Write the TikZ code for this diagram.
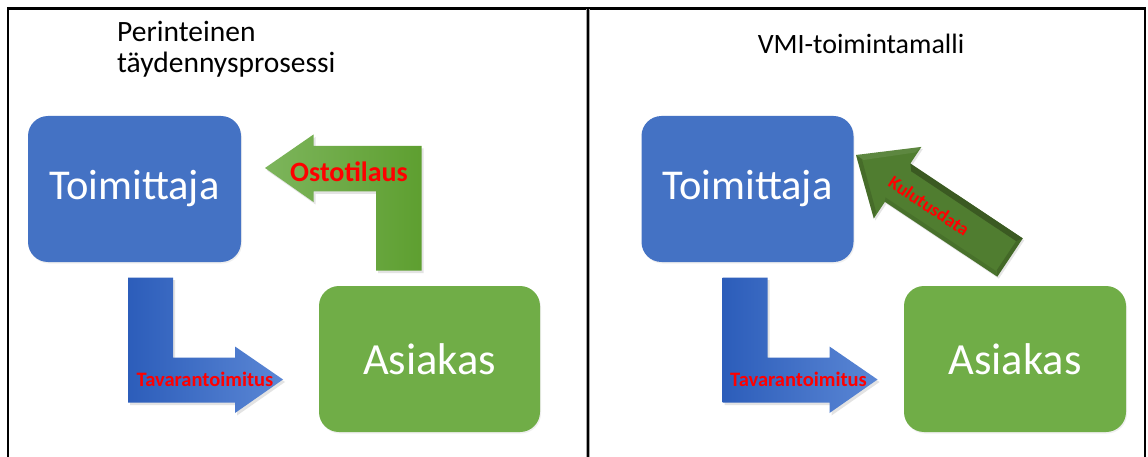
\documentclass[tikz,border=0pt]{standalone}
\usepackage{fontspec}
\setmainfont{Carlito}
\usetikzlibrary{shadows}
\definecolor{boxblue}{HTML}{4472C4}
\definecolor{boxgreen}{HTML}{70AD47}
\definecolor{arrblueA}{HTML}{2C5DBA}
\definecolor{arrblueB}{HTML}{5B87D5}
\definecolor{arrgreenA}{HTML}{7DB55C}
\definecolor{arrgreenB}{HTML}{5E9F30}
\definecolor{kgreen}{HTML}{507D30}
\definecolor{kdark}{HTML}{344F1E}
\definecolor{lblred}{HTML}{FF0000}
\tikzset{
  actor/.style={rounded corners=20pt, inner sep=0pt, text=white,
    drop shadow={shadow xshift=1pt, shadow yshift=-1.5pt, opacity=.12}},
  heading/.style={font=\fontsize{28}{32}\selectfont, inner sep=0pt},
  flowlabel/.style={text=lblred, font=\bfseries\fontsize{20.5}{24}\selectfont, inner sep=0pt},
  bentshadow/.style={drop shadow={shadow xshift=2pt, shadow yshift=-2.5pt, opacity=.22}},
  frameline/.style={line width=2.6pt, black}
}
\begin{document}
\begin{tikzpicture}[x=1pt, y=-1pt]
\useasboundingbox (0,0) rectangle (1148,457);
\fill[white] (0,0) rectangle (1148,457);

% panel frame
\draw[frameline] (8,8.5) -- (1146,8.5);
\draw[frameline] (8,7.2) -- (8,460);
\draw[frameline] (1145,7.2) -- (1145,460);
\draw[line width=4.2pt, black!35] (588,9.5) -- (588,460);
\draw[frameline] (588,7.2) -- (588,460);

% ---------- left panel: traditional replenishment ----------
\node[heading, font=\fontsize{29.5}{34}\selectfont, anchor=base west] (titleA1) at (117,41.7) {Perinteinen};
\node[heading, font=\fontsize{29.5}{34}\selectfont, anchor=base west] (titleA2) at (117,72.7) {täydennysprosessi};

\node[actor, fill=boxblue, minimum width=213pt, minimum height=146pt,
      font=\fontsize{42.5}{48}\selectfont] (supA) at (134.5,189) {Toimittaja};
\node[actor, fill=boxgreen, minimum width=221pt, minimum height=146pt,
      font=\fontsize{44.5}{50}\selectfont] (cusA) at (429.5,359) {Asiakas};

% purchase order arrow (customer -> supplier)
\path[bentshadow, left color=arrgreenA, right color=arrgreenB]
  (265,168) -- (313.5,134.5) -- (313.5,146) -- (421.5,146) -- (421.5,270.5)
  -- (376,270.5) -- (376,191.5) -- (313.5,191.5) -- (313.5,202) -- cycle;
\node[flowlabel, font=\bfseries\fontsize{28}{32}\selectfont] (orderA) at (349,172) {Ostotilaus};

% delivery arrow (supplier -> customer)
\path[bentshadow, left color=arrblueA, right color=arrblueB]
  (128,277.5) -- (173,277.5) -- (173,357.5) -- (235,357.5) -- (235,346.5)
  -- (283,379.5) -- (235,413) -- (235,402.5) -- (128,402.5) -- cycle;
\node[flowlabel] (delivA) at (205,379) {Tavarantoimitus};

% ---------- right panel: VMI model ----------
\node[heading, anchor=base] (titleB) at (861,53.3) {VMI-toimintamalli};

\node[actor, fill=boxblue, minimum width=212pt, minimum height=146pt,
      font=\fontsize{42.5}{48}\selectfont] (supB) at (747.5,189) {Toimittaja};
\node[actor, fill=boxgreen, minimum width=222pt, minimum height=146pt,
      font=\fontsize{44.5}{50}\selectfont] (cusB) at (1015,359) {Asiakas};

% delivery arrow (supplier -> customer)
\begin{scope}[xshift=594.5pt]
\path[bentshadow, left color=arrblueA, right color=arrblueB]
  (128,277.5) -- (173,277.5) -- (173,357.5) -- (235,357.5) -- (235,346.5)
  -- (283,379.5) -- (235,413) -- (235,402.5) -- (128,402.5) -- cycle;
\end{scope}
\node[flowlabel] (delivB) at (798.5,379) {Tavarantoimitus};

% consumption data arrow (customer -> supplier), bevelled
\begin{scope}[shift={(1010,257.5)}, rotate=146.35]
  \fill[kgreen, drop shadow={shadow xshift=1.5pt, shadow yshift=-2pt, opacity=.2}]
    (0,-23) -- (135,-23) -- (135,-43) -- (185,0) -- (135,43) -- (135,23) -- (0,23) -- cycle;
  % dark bevel along the upper side and tail
  \fill[kdark, opacity=.75] (0,23) -- (135,23) -- (130,17) -- (4,17) -- cycle;
  \fill[kdark, opacity=.45] (0,-23) -- (0,23) -- (4,17) -- (4,-18) -- cycle;
  \fill[kdark, opacity=.35] (135,-43) -- (185,0) -- (178,0) -- (137,-36) -- cycle;
  \fill[kdark, opacity=.25] (0,-23) -- (135,-23) -- (137,-19) -- (4,-19) -- cycle;
  \fill[white, opacity=.08] (135,43) -- (185,0) -- (176,0) -- (137,35) -- cycle;
  \node[flowlabel, font=\bfseries\fontsize{18.5}{22}\selectfont, rotate=-33.65] (dataB) at (96,-2) {Kulutusdata};
\end{scope}
\end{tikzpicture}
\end{document}
